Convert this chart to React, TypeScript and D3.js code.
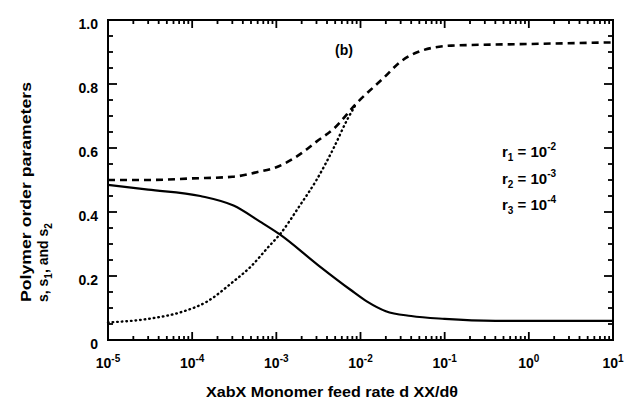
import React from "react";
import * as d3 from "d3";

// feed rate (log x) and the three order parameters
const sX = [1e-5, 3e-5, 1.25e-4, 3.1e-4, 6.4e-4, 1.1e-3, 3.1e-3, 7.6e-3, 1.2e-2, 2e-2, 4e-2, 1e-1, 4e-1, 1, 10];
const sY = [0.485, 0.47, 0.45, 0.42, 0.37, 0.33, 0.235, 0.157, 0.12, 0.09, 0.075, 0.066, 0.06, 0.06, 0.06];

const s1X = [1e-5, 3e-5, 1e-4, 3e-4, 6e-4, 1e-3, 1.9e-3, 3e-3, 4.8e-3, 9e-3, 1.9e-2, 3e-2, 4.8e-2, 0.12, 1, 10];
const s1Y = [0.5, 0.5, 0.505, 0.51, 0.525, 0.54, 0.58, 0.62, 0.66, 0.74, 0.82, 0.87, 0.9, 0.92, 0.925, 0.93];

const s2X = [1e-5, 3e-5, 8e-5, 1.5e-4, 3e-4, 5e-4, 8e-4, 1.1e-3, 1.9e-3, 3e-3, 4.8e-3, 7e-3, 9e-3];
const s2Y = [0.055, 0.066, 0.09, 0.12, 0.18, 0.23, 0.29, 0.33, 0.42, 0.5, 0.6, 0.69, 0.74];

const xExps = [-5, -4, -3, -2, -1, 0, 1];
const yTicks = [0, 0.2, 0.4, 0.6, 0.8, 1.0];
const yTickText = ["0", "0.2", "0.4", "0.6", "0.8", "1.0"];

const legendSub = ["1", "2", "3"];
const legendExp = ["-2", "-3", "-4"];

const W = 625, H = 405;
const m = { left: 108, right: 12, top: 20, bottom: 65 };
const font = "'Liberation Sans', Arial, sans-serif";

export default function App() {
  const x = d3.scaleLog().domain([1e-5, 10]).range([m.left, W - m.right]);
  const y = d3.scaleLinear().domain([0, 1]).range([H - m.bottom, m.top]);
  const line = d3.line<[number, number]>()
    .x(d => x(d[0])).y(d => y(d[1]))
    .curve(d3.curveMonotoneX);
  const pts = (xs: number[], ys: number[]) => xs.map((v, i) => [v, ys[i]] as [number, number]);

  const x0 = m.left, x1 = W - m.right, y0 = H - m.bottom, y1 = m.top;

  // tick marks, all pointing into the frame
  const ticks: { x1: number; y1: number; x2: number; y2: number }[] = [];
  xExps.forEach(e => {
    const px = x(Math.pow(10, e));
    ticks.push({ x1: px, x2: px, y1: y0, y2: y0 - 8 });
    ticks.push({ x1: px, x2: px, y1: y1, y2: y1 + 8 });
    if (e < 1) {
      for (let k = 2; k <= 9; k++) {
        const q = x(k * Math.pow(10, e));
        ticks.push({ x1: q, x2: q, y1: y0, y2: y0 - 4 });
        ticks.push({ x1: q, x2: q, y1: y1, y2: y1 + 4 });
      }
    }
  });
  d3.range(0, 21).forEach(i => {
    const py = y(i * 0.05);
    const len = i % 4 === 0 ? 9 : 5;
    ticks.push({ x1: x0, x2: x0 + len, y1: py, y2: py });
    ticks.push({ x1: x1, x2: x1 - len, y1: py, y2: py });
  });

  return (
    <svg width={W} height={H} style={{ position: "absolute", left: 0, top: 0, background: "#fff" }}
      fontFamily={font} fontWeight="bold">
      {ticks.map((t, i) => (
        <line key={i} x1={t.x1} y1={t.y1} x2={t.x2} y2={t.y2} stroke="#000" strokeWidth={1.8} />
      ))}
      <rect x={x0} y={y1} width={x1 - x0} height={y0 - y1} fill="none" stroke="#000" strokeWidth={2} />

      <path d={line(pts(sX, sY)) || ""} fill="none" stroke="#000" strokeWidth={2.2} />
      <path d={line(pts(s1X, s1Y)) || ""} fill="none" stroke="#000" strokeWidth={2.6} strokeDasharray="7 5" />
      <path d={line(pts(s2X, s2Y)) || ""} fill="none" stroke="#000" strokeWidth={2.4} strokeDasharray="0.6 4" strokeLinecap="round" />

      {yTicks.map((v, i) => (
        <text key={v} x={x0 - 10} y={y(v) + 9} textAnchor="end" fontSize={14}>{yTickText[i]}</text>
      ))}
      {xExps.map(e => (
        <text key={e} x={x(Math.pow(10, e))} y={y0 + 28} textAnchor="middle" fontSize={14}>
          10<tspan dy={-6} fontSize={10}>{e}</tspan>
        </text>
      ))}

      <text x={332} y={H - 8} textAnchor="middle" fontSize={14} textLength={252} lengthAdjust="spacingAndGlyphs">XabX Monomer feed rate d XX/dθ</text>
      <g transform="translate(31,302) rotate(-90)">
        <text x={0} y={0} fontSize={14} textLength={220} lengthAdjust="spacingAndGlyphs">Polymer order parameters</text>
        <text x={0} y={17} fontSize={14}>s, s<tspan dy={4} fontSize={10}>1</tspan><tspan dy={-4}>, and s</tspan><tspan dy={4} fontSize={10}>2</tspan></text>
      </g>

      <text x={335} y={55} fontSize={14}>(b)</text>
      {legendSub.map((s, i) => (
        <text key={s} x={502} y={157 + i * 26.5} fontSize={15}>
          r<tspan dy={4} fontSize={10}>{s}</tspan><tspan dy={-4}> = 10</tspan><tspan dy={-7} fontSize={10}>{legendExp[i]}</tspan>
        </text>
      ))}
    </svg>
  );
}
